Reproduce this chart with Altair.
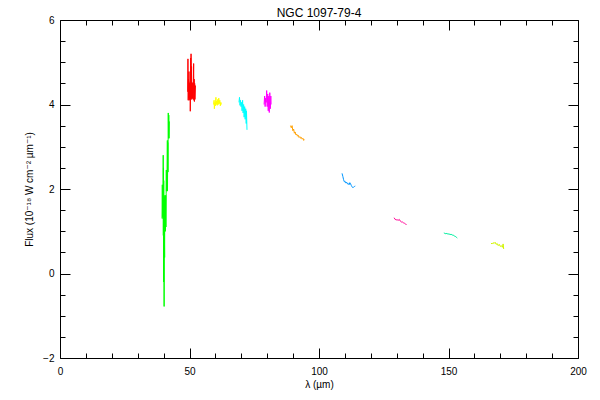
import altair as alt
import pandas as pd

# ---- data ----
seg_names = ["s1", "s2", "s3", "s4", "s5", "s6", "s7", "s8", "s9", "s10"]
seg_colors = ["#00FF00", "#FF0000", "#FFFF00", "#00FFFF", "#FF00FF",
              "#FFA000", "#0096FF", "#FF0096", "#00F0A0", "#D2F500"]

green_x = [39.4, 39.5, 39.6, 39.7, 39.8, 39.85, 39.9, 39.95, 40.0, 40.05, 40.1, 40.15, 40.2, 40.25,
           40.3, 40.4, 40.45, 40.5, 40.6, 40.7, 40.8, 40.9, 41.0, 41.05, 41.1, 41.2, 41.3, 41.35,
           41.45, 41.5, 41.6, 41.7, 41.75, 41.8, 41.9, 42.0, 42.1, 42.2]
green_y = [1.3, 2.1, 1.35, 2.0, 1.3, 2.8, 0.9, 2.5, -0.2, 2.2, 0.6, 1.5, -0.78, 1.8,
           1.0, 0.38, 1.85, 1.0, 1.8, 1.0, 1.85, 1.1, 1.9, 2.45, 1.95, 2.45, 2.0, 2.4,
           3.15, 1.95, 3.1, 2.4, 3.2, 3.8, 3.2, 3.75, 3.2, 3.6]

red_x = [49.3, 49.4, 49.5, 49.6, 49.7, 49.8, 49.9, 50.0, 50.1, 50.25, 50.3, 50.4, 50.45, 50.5,
         50.6, 50.7, 50.8, 50.9, 51.0, 51.1, 51.3, 51.4, 51.6, 51.7, 51.8, 51.9, 52.0, 52.1, 52.3]
red_y = [4.3, 5.08, 4.1, 4.6, 4.15, 4.78, 4.1, 4.5, 4.12, 4.54, 3.84, 4.4, 5.1, 4.12,
         5.2, 4.15, 4.9, 4.12, 4.5, 4.15, 4.52, 4.13, 4.97, 4.1, 4.6, 4.07, 4.5, 4.12, 4.45]

yellow_x = [59.3, 59.5, 59.6, 59.8, 60.0, 60.2, 60.3, 60.5, 60.7, 60.9, 61.1, 61.3, 61.5, 61.7,
            61.9, 62.1, 62.3]
yellow_y = [4.0, 4.1, 3.9, 4.05, 3.97, 4.17, 4.0, 4.08, 3.98, 4.12, 4.0, 4.15, 4.02, 4.1,
            3.97, 4.05, 4.0]

cyan_x = [69.1, 69.3, 69.5, 69.7, 69.9, 70.1, 70.3, 70.5, 70.7, 70.9, 71.1, 71.3, 71.5, 71.7,
          71.9, 72.0, 72.2]
cyan_y = [4.05, 4.17, 3.98, 4.1, 3.95, 4.05, 3.85, 4.1, 3.8, 4.0, 3.7, 3.95, 3.65, 3.9,
          3.55, 3.85, 3.4]

magenta_x = [78.8, 79.0, 79.2, 79.4, 79.6, 79.8, 80.0, 80.2, 80.4, 80.6, 80.8, 81.0, 81.2, 81.4, 81.5]
magenta_y = [4.0, 4.2, 3.95, 4.15, 4.05, 4.33, 3.95, 4.25, 3.85, 4.2, 3.81, 4.28, 3.9, 4.2, 4.0]

orange_x = [89.0, 89.3, 89.6, 89.9, 90.2, 90.5, 90.8, 91.1, 91.4, 91.7, 92.0, 92.3, 92.6, 92.9,
            93.2, 93.5, 93.8, 94.1, 94.4]
orange_y = [3.5, 3.45, 3.5, 3.38, 3.42, 3.32, 3.35, 3.28, 3.3, 3.25, 3.27, 3.22, 3.24, 3.2,
            3.22, 3.18, 3.2, 3.15, 3.17]

blue_x = [108.9, 109.2, 109.5, 109.8, 110.1, 110.4, 110.7, 111.0, 111.3, 111.6, 111.9, 112.2,
          112.5, 112.8, 113.1, 113.4, 113.7, 114.0]
blue_y = [2.37, 2.3, 2.22, 2.17, 2.18, 2.14, 2.16, 2.12, 2.13, 2.1, 2.15, 2.12,
          2.08, 2.05, 2.03, 2.05, 2.06, 2.07]

pink_x = [129.0, 129.4, 129.8, 130.2, 130.6, 131.0, 131.4, 131.8, 132.2, 132.6, 133.0, 133.4, 133.8]
pink_y = [1.32, 1.28, 1.27, 1.27, 1.26, 1.28, 1.24, 1.22, 1.22, 1.2, 1.19, 1.17, 1.16]

teal_x = [148.2, 148.6, 149.0, 149.4, 149.8, 150.2, 150.6, 151.0, 151.4, 151.8, 152.2, 152.6,
          153.0, 153.4]
teal_y = [0.96, 0.95, 0.94, 0.95, 0.93, 0.94, 0.92, 0.93, 0.91, 0.91, 0.89, 0.88, 0.86, 0.84]

yg_x = [166.4, 166.8, 167.2, 167.6, 168.0, 168.4, 168.8, 169.2, 169.6, 170.0, 170.4, 170.8,
        171.1, 171.3]
yg_y = [0.72, 0.70, 0.73, 0.71, 0.74, 0.69, 0.71, 0.66, 0.69, 0.64, 0.66, 0.62, 0.70, 0.58]

x_major = [0, 50, 100, 150, 200]
x_minor = [10, 20, 30, 40, 60, 70, 80, 90, 110, 120, 130, 140, 160, 170, 180, 190]
y_major = [-2, 0, 2, 4, 6]
y_minor = [-1.5, -1, -0.5, 0.5, 1, 1.5, 2.5, 3, 3.5, 4.5, 5, 5.5]

segments = [
    ("s1", green_x, green_y), ("s2", red_x, red_y), ("s3", yellow_x, yellow_y),
    ("s4", cyan_x, cyan_y), ("s5", magenta_x, magenta_y), ("s6", orange_x, orange_y),
    ("s7", blue_x, blue_y), ("s8", pink_x, pink_y), ("s9", teal_x, teal_y), ("s10", yg_x, yg_y),
]
rows = []
for name, xs_, ys_ in segments:
    for i, (xv, yv) in enumerate(zip(xs_, ys_)):
        rows.append({"seg": name, "x": xv, "y": yv, "i": i})
df = pd.DataFrame(rows)

W, H = 518, 338
FONT = "Liberation Sans, DejaVu Sans, sans-serif"
xscale = alt.Scale(domain=[0, 200], nice=False, zero=False)
yscale = alt.Scale(domain=[-2, 6], nice=False, zero=False)

base = alt.Chart(df)

main = base.mark_line(strokeWidth=1).encode(
    x=alt.X("x:Q", scale=xscale,
            axis=alt.Axis(orient="bottom", values=x_major, ticks=False, domain=True,
                          labelPadding=8, labelFlush=False, title="λ (µm)", titlePadding=3)),
    y=alt.Y("y:Q", scale=yscale,
            axis=alt.Axis(orient="left", values=y_major, ticks=False, domain=True,
                          labelPadding=6, labelFlush=False,
                          title="Flux (10⁻¹⁸ W cm⁻² µm⁻¹)", titlePadding=8)),
    color=alt.Color("seg:N", scale=alt.Scale(domain=seg_names, range=seg_colors), legend=None),
    order=alt.Order("i:Q"),
)


def tick_layer(orient_x, orient_y, xv, yv, size, domain):
    return base.mark_line(opacity=0).encode(
        x=alt.X("x:Q", scale=xscale,
                axis=alt.Axis(orient=orient_x, offset=-H, values=xv, tickSize=size,
                              labels=False, domain=domain, title=None)),
        y=alt.Y("y:Q", scale=yscale,
                axis=alt.Axis(orient=orient_y, offset=-W, values=yv, tickSize=size,
                              labels=False, domain=domain, title=None)),
        detail="seg:N",
    )


layers = [
    main,
    tick_layer("top", "right", x_major, y_major, 10, False),
    tick_layer("top", "right", x_minor, y_minor, 5, False),
    tick_layer("bottom", "left", x_major, y_major, 10, True),
    tick_layer("bottom", "left", x_minor, y_minor, 5, False),
]

chart = alt.layer(*layers).resolve_axis(x="independent", y="independent").properties(
    width=W, height=H,
    autosize=alt.AutoSizeParams(type="none"),
    padding={"left": 52, "top": 12, "right": 14, "bottom": 34},
    background="white",
    title=alt.TitleParams("NGC 1097-79-4", font=FONT, fontSize=12, fontWeight="normal",
                          color="black", anchor="middle", offset=4, dy=9),
).configure_axis(
    labelFont=FONT, titleFont=FONT, labelFontSize=10, titleFontSize=10,
    labelColor="black", titleColor="black", titleFontWeight="normal",
    domainColor="black", tickColor="black", domainWidth=1, tickWidth=1, grid=False,
).configure_view(stroke=None)

chart.save("out.html", embed_options={"renderer": "svg", "actions": False})
